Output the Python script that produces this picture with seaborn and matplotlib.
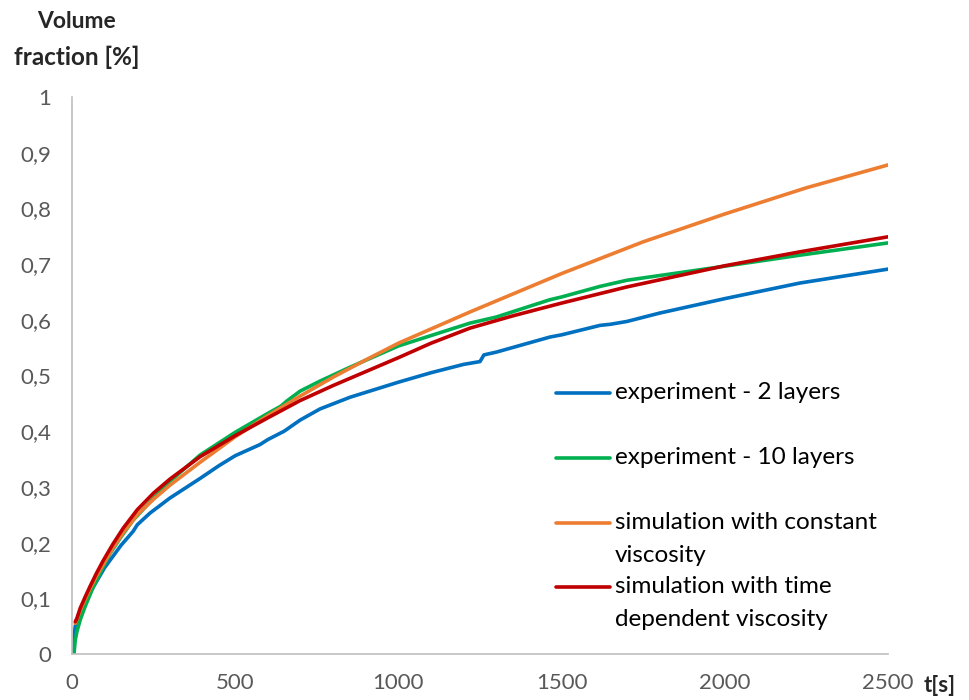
import pandas as pd
import matplotlib
matplotlib.use('Agg')
import matplotlib.pyplot as plt
import seaborn as sns
from matplotlib.ticker import FuncFormatter

# 데이터
t_exp2 = [0, 5, 8, 10, 20, 40, 65, 100, 150, 187, 200, 239, 300, 392, 450, 500, 576,
          600, 650, 699, 760, 852, 1000, 1100, 1200, 1250, 1262, 1300, 1464, 1500,
          1618, 1650, 1700, 1800, 2000, 2230, 2500]
v_exp2 = [0, 0.0, 0.04, 0.05, 0.07, 0.095, 0.12, 0.155, 0.195, 0.22, 0.232, 0.253,
          0.28, 0.315, 0.338, 0.356, 0.376, 0.385, 0.4, 0.42, 0.44, 0.461, 0.488,
          0.505, 0.52, 0.525, 0.537, 0.542, 0.569, 0.573, 0.59, 0.592, 0.597, 0.612,
          0.638, 0.666, 0.691]

t_exp10 = [0, 6, 10, 15, 25, 40, 65, 90, 116, 150, 187, 250, 300, 392, 500, 600, 640,
           660, 699, 760, 852, 1000, 1219, 1300, 1464, 1500, 1618, 1700, 1985, 2230,
           2500]
v_exp10 = [0, 0.0, 0.025, 0.04, 0.061, 0.085, 0.12, 0.15, 0.18, 0.21, 0.24, 0.28,
           0.31, 0.357, 0.398, 0.432, 0.445, 0.455, 0.472, 0.49, 0.515, 0.553, 0.594,
           0.605, 0.636, 0.641, 0.66, 0.671, 0.695, 0.716, 0.738]

t_sim_const = [10, 15, 25, 40, 55, 75, 95, 125, 157, 200, 250, 300, 392, 500, 600,
               699, 800, 900, 1000, 1219, 1500, 1750, 2000, 2250, 2500]
v_sim_const = [0.055, 0.062, 0.078, 0.098, 0.117, 0.14, 0.16, 0.19, 0.218, 0.25,
               0.278, 0.303, 0.344, 0.39, 0.428, 0.463, 0.497, 0.528, 0.558, 0.614,
               0.683, 0.74, 0.79, 0.837, 0.878]

t_sim_time = [10, 15, 25, 40, 55, 75, 95, 125, 157, 200, 250, 300, 392, 500, 600, 699,
              800, 900, 1000, 1100, 1219, 1350, 1500, 1700, 2000, 2230, 2500]
v_sim_time = [0.058, 0.064, 0.082, 0.102, 0.121, 0.145, 0.167, 0.197, 0.226, 0.259,
              0.289, 0.314, 0.354, 0.392, 0.424, 0.455, 0.482, 0.507, 0.532, 0.558,
              0.585, 0.607, 0.63, 0.659, 0.697, 0.722, 0.749]

series_names = ['experiment - 2 layers', 'experiment - 10 layers',
                'simulation with constant\nviscosity',
                'simulation with time\ndependent viscosity']
colors = ['#0070C0', '#00B050', '#ED7D31', '#C00000']
y_ticks = [0, 0.1, 0.2, 0.3, 0.4, 0.5, 0.6, 0.7, 0.8, 0.9, 1]
x_ticks = [0, 500, 1000, 1500, 2000, 2500]

# long 형식으로 변환
frames = []
for name, t, v in zip(series_names,
                      [t_exp2, t_exp10, t_sim_const, t_sim_time],
                      [v_exp2, v_exp10, v_sim_const, v_sim_time]):
    frames.append(pd.DataFrame({'t': t, 'v': v, 'series': name}))
df = pd.concat(frames, ignore_index=True)

sns.set_style('white')
plt.rcParams['font.family'] = ['Lato', 'DejaVu Sans']

fig = plt.figure(figsize=(9.7, 7), dpi=100)
ax = fig.add_axes([72 / 970, 46 / 700, 816 / 970, 557 / 700])

sns.lineplot(data=df, x='t', y='v', hue='series', hue_order=series_names,
             palette=dict(zip(series_names, colors)), linewidth=2.6,
             legend=False, sort=False, ax=ax, estimator=None)

ax.set_xlim(0, 2500)
ax.set_ylim(0, 1)
ax.set_xticks(x_ticks)
ax.set_yticks(y_ticks)
ax.yaxis.set_major_formatter(FuncFormatter(lambda y, p: ('%g' % y).replace('.', ',')))
ax.tick_params(axis='both', length=0, labelsize=16, colors='#595959')
ax.tick_params(axis='y', pad=15)
ax.tick_params(axis='x', pad=14)
ax.set_xlabel('')
ax.set_ylabel('')
for side in ['top', 'right']:
    ax.spines[side].set_visible(False)
for side in ['left', 'bottom']:
    ax.spines[side].set_color('#BFBFBF')
    ax.spines[side].set_linewidth(1.2)

# 축 제목
fig.text(77 / 970, 1 - 22 / 700, 'Volume', ha='center', va='center',
         fontsize=16.5, fontweight='bold')
fig.text(77 / 970, 1 - 57 / 700, 'fraction [%]', ha='center', va='center',
         fontsize=17.5, fontweight='bold')
fig.text(940 / 970, 1 - 686 / 700, 't[s]', ha='center', va='center',
         fontsize=16, fontweight='bold')

# 범례 (핸들은 첫 줄에 맞춤)
leg_y = [393, 458, 523, 587]
for name, c, yp in zip(series_names, colors, leg_y):
    yf = 1 - yp / 700
    fig.add_artist(plt.Line2D([556 / 970, 610 / 970], [yf, yf], color=c,
                              linewidth=2.6, solid_capstyle='round'))
    for i, line in enumerate(name.split('\n')):
        fig.text(615 / 970, 1 - (yp + 6 + 33 * i) / 700, line, ha='left',
                 va='baseline', fontsize=17.5, color='black')

fig.savefig('out.png', dpi=100)
